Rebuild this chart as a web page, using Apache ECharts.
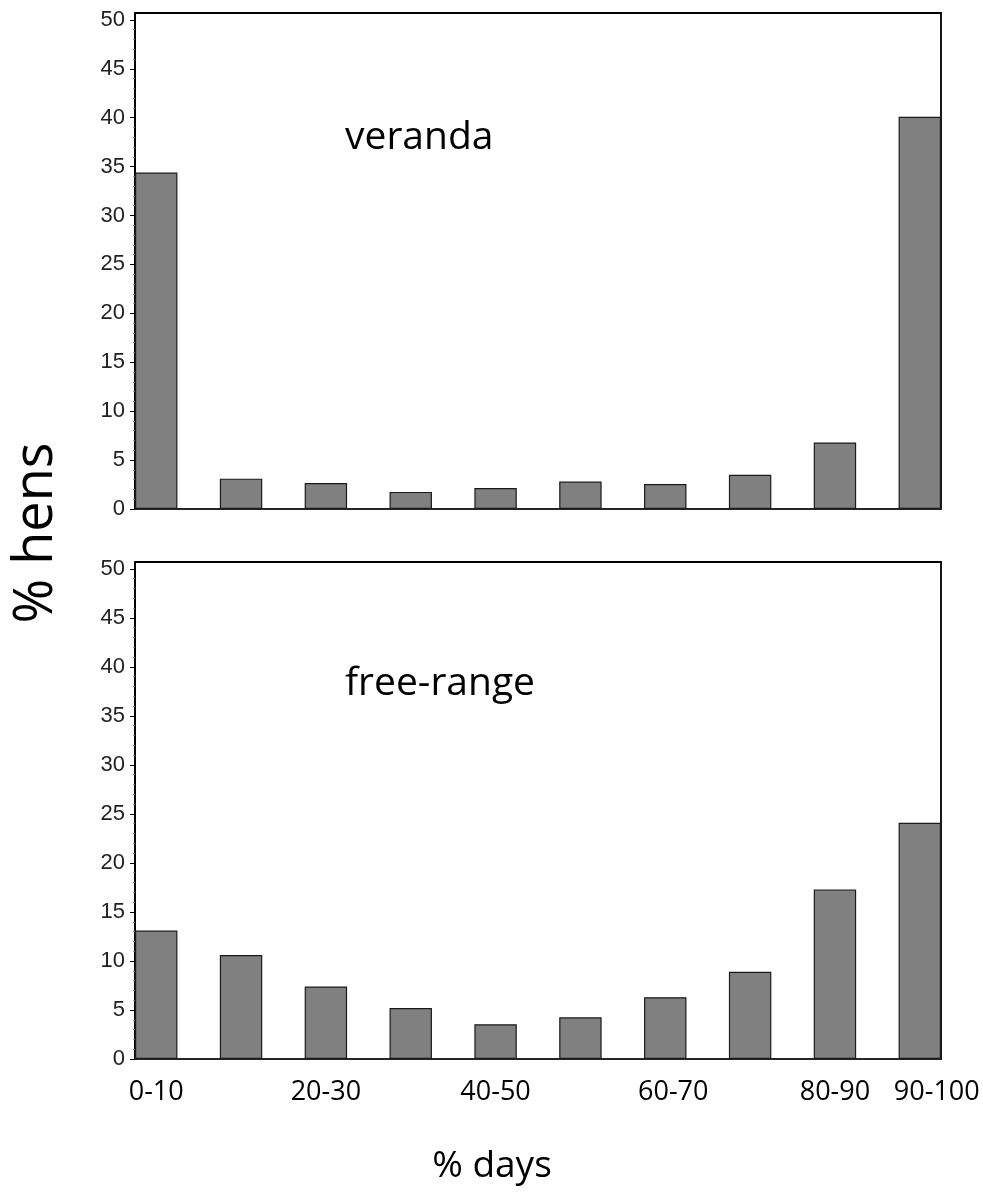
<!DOCTYPE html>
<html><head><meta charset="utf-8">
<script src="https://cdn.jsdelivr.net/npm/echarts@6/dist/echarts.min.js"></script>
<style>html,body{margin:0;padding:0;background:#fff}#c{width:983px;height:1193px}</style>
</head><body><div id="c"></div>
<script>
// ---- data ----
const categories = ['0-10','10-20','20-30','30-40','40-50','50-60','60-70','70-80','80-90','90-100'];
const labelledCategories = ['0-10','20-30','40-50','60-70','80-90','90-100'];
const verandaValues = [34.4, 3.1, 2.65, 1.75, 2.15, 2.8, 2.55, 3.5, 6.8, 40.1];
const freeRangeValues = [13.1, 10.6, 7.4, 5.2, 3.55, 4.25, 6.3, 8.9, 17.3, 24.1];
const yTickValues = [0, 5, 10, 15, 20, 25, 30, 35, 40, 45, 50];
const panelTitles = ['veranda', 'free-range'];
const yAxisTitle = '% hens';
const xAxisTitle = '% days';

// ---- chart ----
const chart = echarts.init(document.getElementById('c'), null, {renderer: 'canvas'});
const labelIdx = labelledCategories.map(c => categories.indexOf(c));
const grids = [
  {left: 135, width: 806, top: 13, height: 496},
  {left: 135, width: 806, top: 562, height: 497}
];
const sans = "'Open Sans', sans-serif";
// small horizontal nudges of some x labels, as in the original layout
const labelNudge = {'60-70': 'n8', '90-100': 'n17'};

function xAxis(gi, showLabels) {
  return {
    type: 'value', gridIndex: gi, min: -0.25, max: 9.25,
    splitLine: {show: false},
    axisLine: {show: true, onZero: false, lineStyle: {color: '#333', width: 1.5}},
    axisTick: {show: false},
    axisLabel: {
      show: showLabels, customValues: labelIdx, margin: 20,
      fontFamily: sans, fontSize: 27, color: '#000',
      formatter: v => {
        const c = categories[Math.round(v)];
        return labelNudge[c] ? '{' + labelNudge[c] + '|' + c + '}' : c;
      },
      rich: {
        n8: {fontFamily: sans, fontSize: 27, color: '#000', padding: [0, 0, 0, 16]},
        n17: {fontFamily: sans, fontSize: 27, color: '#000', padding: [0, 0, 0, 34]}
      }
    }
  };
}
function yAxis(gi) {
  return {
    type: 'value', gridIndex: gi, min: 0, max: 50.7, interval: 5,
    splitLine: {show: false},
    axisLine: {show: true, onZero: false, lineStyle: {color: '#000', width: 2}},
    axisTick: {show: true, customValues: yTickValues, length: 5, lineStyle: {color: '#000', width: 1}},
    minorTick: {show: true, splitNumber: 5, length: 2, lineStyle: {color: '#888', width: 1}},
    axisLabel: {
      customValues: yTickValues, margin: 10,
      fontFamily: "'Liberation Sans', Arial, sans-serif", fontSize: 22, color: '#222'
    }
  };
}
function barSeries(gi, values) {
  return {
    type: 'bar', xAxisIndex: gi, yAxisIndex: gi,
    data: values.map((v, i) => [i, v]),
    barWidth: '50%',
    itemStyle: {color: '#808080', borderColor: '#1a1a1a', borderWidth: 1.2},
    silent: true
  };
}

chart.setOption({
  animation: false,
  backgroundColor: '#fff',
  grid: grids.map(g => Object.assign({show: true, borderColor: '#000', borderWidth: 1.8, backgroundColor: 'transparent'}, g)),
  xAxis: [xAxis(0, false), xAxis(1, true)],
  yAxis: [yAxis(0), yAxis(1)],
  series: [barSeries(0, verandaValues), barSeries(1, freeRangeValues)],
  graphic: [
    {type: 'text', left: 345, top: 118, style: {text: panelTitles[0], font: "39px 'Open Sans'", fill: '#000'}},
    {type: 'text', left: 345, top: 664, style: {text: panelTitles[1], font: "39px 'Open Sans'", fill: '#000'}},
    {type: 'text', x: 37, y: 533, rotation: Math.PI / 2,
     style: {text: yAxisTitle, font: "54px 'Open Sans'", fill: '#000', align: 'center', verticalAlign: 'middle'}},
    {type: 'text', x: 492, y: 1166,
     style: {text: xAxisTitle, font: "37px 'Open Sans'", fill: '#000', align: 'center', verticalAlign: 'middle'}}
  ]
});
</script></body></html>
